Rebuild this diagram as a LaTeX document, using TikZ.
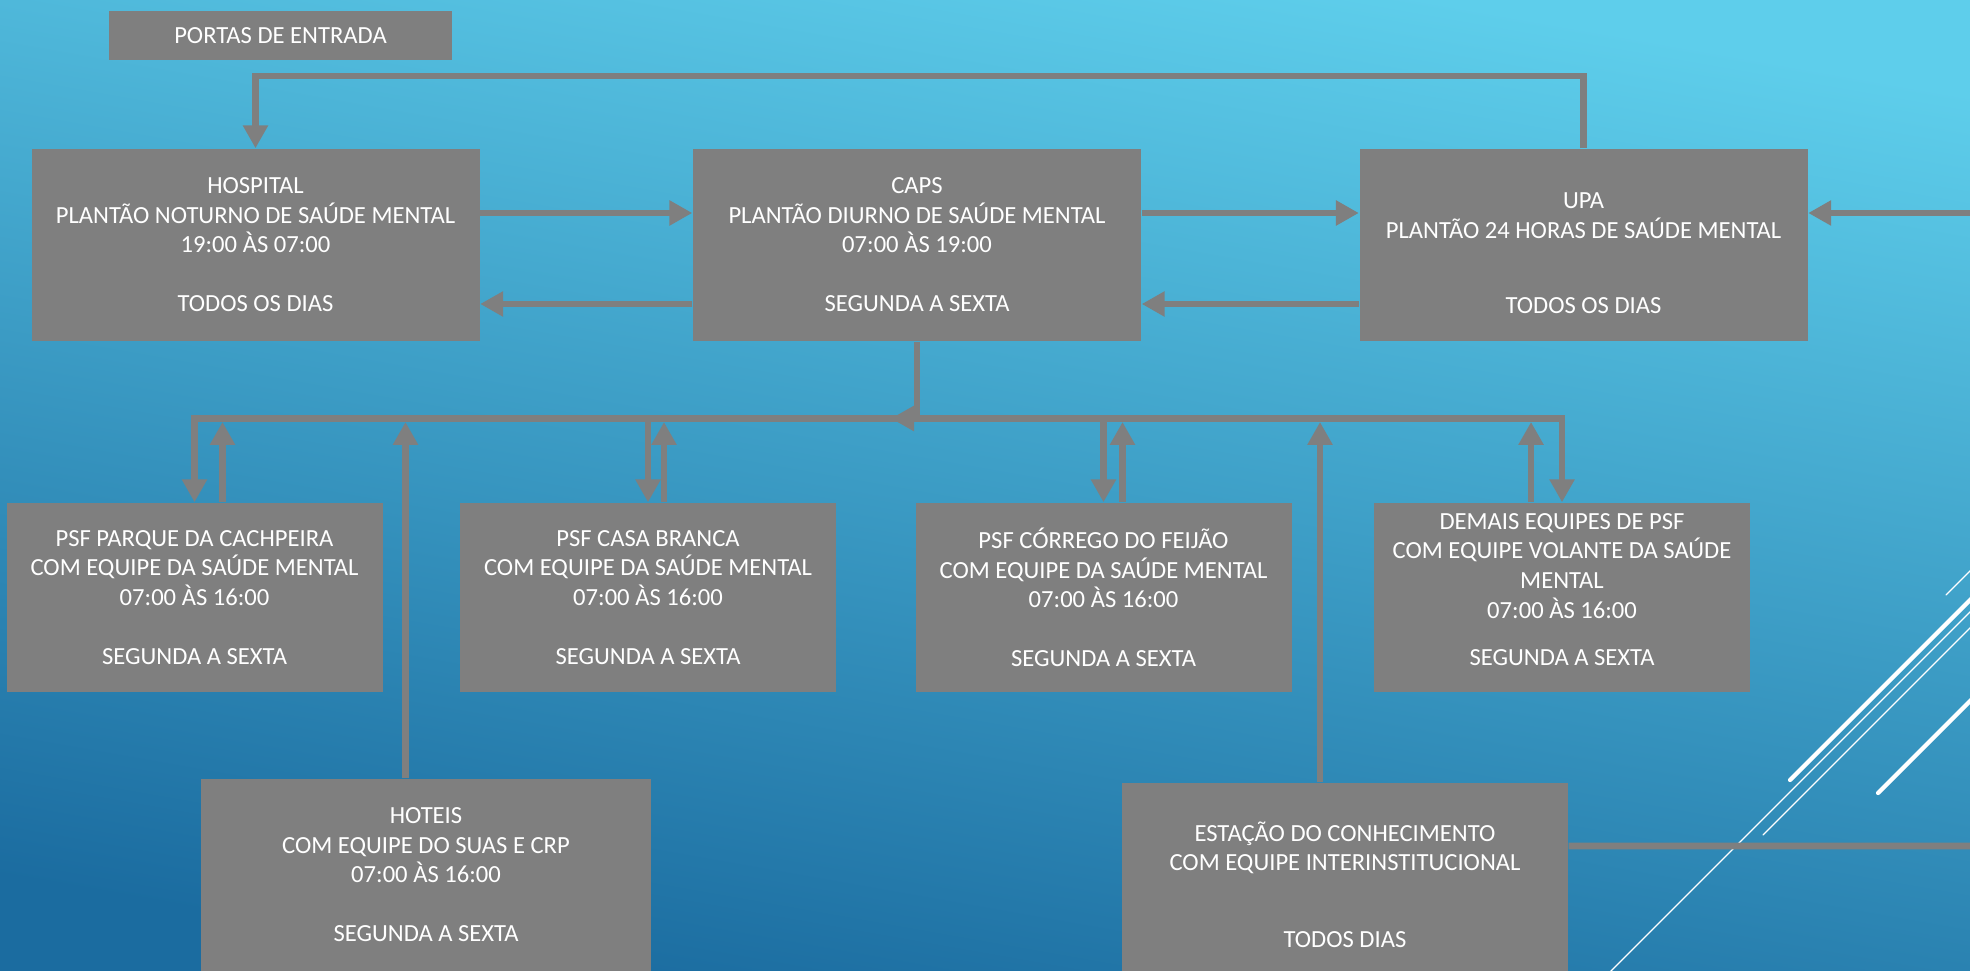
\documentclass[tikz,border=0pt]{standalone}
\usepackage{fontspec}
\setmainfont{Carlito}
\usetikzlibrary{arrows.meta}
\definecolor{bgtop}{RGB}{94,206,235}
\definecolor{bgbot}{RGB}{27,108,160}
\definecolor{boxgray}{RGB}{127,127,127}

\begin{document}
\begin{tikzpicture}[
    >={Triangle[length=0.23cm,width=0.24cm]},
    bigbox/.style={fill=boxgray,text=white,align=center,inner sep=0pt,
      minimum width=4.48cm,minimum height=1.92cm,font=\fontsize{7.0}{8.4}\selectfont},
    psfbox/.style={bigbox,minimum width=3.76cm,minimum height=1.89cm},
    link/.style={draw=boxgray,line width=0.067cm},
    streak/.style={white,line cap=round}
  ]
  \useasboundingbox (0,0) rectangle (19.70,9.70);
  \clip (0,0) rectangle (19.70,9.70);
  \shade[top color=bgtop,bottom color=bgbot,shading angle=-10] (0,0) rectangle (19.70,9.70);

  % white streaks, bottom right
  \draw[streak,line width=0.37pt] (19.46,3.75) -- (19.80,4.09);
  \draw[streak,line width=1.2pt] (17.90,1.90) -- (19.80,3.80);
  \draw[streak,line width=0.37pt] (16.00,-0.12) -- (19.80,3.68);
  \draw[streak,line width=0.37pt] (17.63,1.35) -- (19.80,3.52);
  \draw[streak,line width=1.2pt] (18.78,1.77) -- (19.80,2.79);

  % boxes
  \node[bigbox,minimum width=3.43cm,minimum height=0.49cm] (portas) at (2.805,9.345) {PORTAS DE ENTRADA};
  \node[bigbox] (hosp) at (2.555,7.25) {HOSPITAL\\PLANTÃO NOTURNO DE SAÚDE MENTAL\\19:00 ÀS 07:00\\[8.4pt]TODOS OS DIAS};
  \node[bigbox] (caps) at (9.17,7.25) {CAPS\\PLANTÃO DIURNO DE SAÚDE MENTAL\\07:00 ÀS 19:00\\[8.4pt]SEGUNDA A SEXTA};
  \node[bigbox] (upa) at (15.835,7.25) {\rule{0pt}{3.2mm}UPA\\PLANTÃO 24 HORAS DE SAÚDE MENTAL\\[12.9pt]TODOS OS DIAS};
  \node[psfbox] (parque) at (1.945,3.725) {PSF PARQUE DA CACHPEIRA\\COM EQUIPE DA SAÚDE MENTAL\\07:00 ÀS 16:00\\[8.4pt]SEGUNDA A SEXTA};
  \node[psfbox] (casa) at (6.48,3.725) {PSF CASA BRANCA\\COM EQUIPE DA SAÚDE MENTAL\\07:00 ÀS 16:00\\[8.4pt]SEGUNDA A SEXTA};
  \node[psfbox] (corrego) at (11.035,3.725) {PSF CÓRREGO DO FEIJÃO\\COM EQUIPE DA SAÚDE MENTAL\\07:00 ÀS 16:00\\[8.4pt]SEGUNDA A SEXTA};
  \node[psfbox] (demais) at (15.62,3.725) {DEMAIS EQUIPES DE PSF\\COM EQUIPE VOLANTE DA SAÚDE\\MENTAL\\07:00 ÀS 16:00\\[5.1pt]SEGUNDA A SEXTA\rule[-1.6mm]{0pt}{1.6mm}};
  \node[bigbox,minimum width=4.50cm] (hoteis) at (4.26,0.95) {HOTEIS\\COM EQUIPE DO SUAS E CRP\\07:00 ÀS 16:00\\[8.4pt]SEGUNDA A SEXTA};
  \node[bigbox,minimum width=4.46cm] (estacao) at (13.45,0.91) {\rule{0pt}{3.1mm}ESTAÇÃO DO CONHECIMENTO\\COM EQUIPE INTERINSTITUCIONAL\\[13.4pt]TODOS DIAS};

  % free ends and bus
  \coordinate (loop) at (0,8.94);
  \coordinate (bus) at (9.17,5.515);
  \coordinate (busedge) at (0,5.48);
  \coordinate (busarrow) at (8.91,5.515);
  \coordinate (edgeU) at (19.75,7.57);
  \coordinate (edgeE) at (19.75,1.24);
  \coordinate (upP) at ([xshift=2.8mm]parque.north);
  \coordinate (upC) at ([xshift=1.6mm]casa.north);
  \coordinate (upF) at ([xshift=1.9mm]corrego.north);
  \coordinate (upD) at ([xshift=-3.1mm]demais.north);
  \coordinate (upH) at ([xshift=-2.05mm]hoteis.north);
  \coordinate (upE) at ([xshift=-2.5mm]estacao.north);

  % top row
  \draw[link,->] (upa.north) -- (upa.north |- loop) -| (hosp.north);
  \draw[link,->] ([yshift=3.2mm]hosp.east) -- ([yshift=3.2mm]caps.west);
  \draw[link,->] ([yshift=-5.9mm]caps.west) -- ([yshift=-5.9mm]hosp.east);
  \draw[link,->] ([yshift=3.2mm]caps.east) -- ([yshift=3.2mm]upa.west);
  \draw[link,->] ([yshift=-5.9mm]upa.west) -- ([yshift=-5.9mm]caps.east);
  \draw[link,->] (edgeU) -- (edgeU -| upa.east);

  % bus to the PSF row
  \draw[link] (caps.south) -- (bus);
  \draw[link,<->] (parque.north) |- (bus) -| (demais.north);
  \draw[link,->] (bus) -- (busarrow);
  \draw[link,->] (casa.north |- bus) -- (casa.north);
  \draw[link,->] (corrego.north |- bus) -- (corrego.north);
  \draw[link,->] (upP) -- (upP |- busedge);
  \draw[link,->] (upC) -- (upC |- busedge);
  \draw[link,->] (upF) -- (upF |- busedge);
  \draw[link,->] (upD) -- (upD |- busedge);
  \draw[link,->] (upH) -- (upH |- busedge);
  \draw[link,->] (upE) -- (upE |- busedge);
  \draw[link] ([yshift=3.3mm]estacao.east) -- (edgeE);
\end{tikzpicture}
\end{document}
